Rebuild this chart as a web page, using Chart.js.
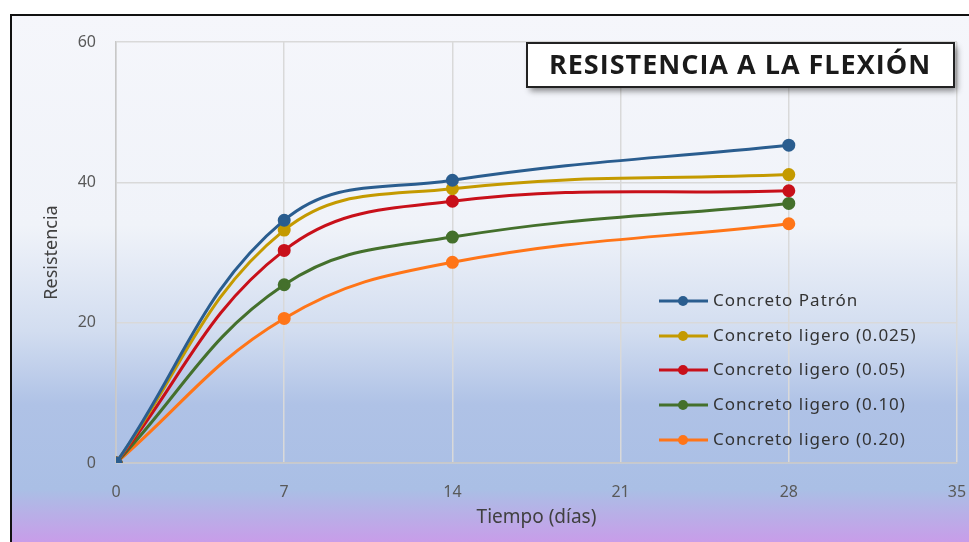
<!DOCTYPE html>
<html>
<head>
<meta charset="utf-8">
<script src="https://cdn.jsdelivr.net/npm/chart.js@4/dist/chart.umd.min.js"></script>
<style>
  html, body { margin: 0; padding: 0; background: #ffffff; }
  #wrap { width: 969px; height: 542px; position: relative; }
</style>
</head>
<body>
<div id="wrap"><canvas id="chart" width="969" height="542"></canvas></div>
<script>
// Datos
const dias = [0, 7, 14, 28];
const series = [
    'Concreto Patrón',
    'Concreto ligero (0.025)',
    'Concreto ligero (0.05)',
    'Concreto ligero (0.10)',
    'Concreto ligero (0.20)'
];
const patron = [0, 34.6, 40.3, 45.3];
const ligero025 = [0, 33.2, 39.1, 41.1];
const ligero05 = [0, 30.3, 37.3, 38.8];
const ligero10 = [0, 25.4, 32.2, 37.0];
const ligero20 = [0, 20.6, 28.6, 34.1];
const colores = ['#2a5d8f', '#c49a00', '#c8101a', '#44702c', '#ff7518'];
const xTicks = [0, 7, 14, 21, 28, 35];
const yTicks = [0, 20, 40, 60];
const titulo = 'RESISTENCIA A LA FLEXIÓN';

const valores = [patron, ligero025, ligero05, ligero10, ligero20];

const datasets = valores.map((vals, i) => ({
    label: series[i],
    data: vals.map((v, j) => ({ x: dias[j], y: v })),
    borderColor: colores[i],
    backgroundColor: colores[i],
    borderWidth: 3,
    pointRadius: 5,
    pointHoverRadius: 5,
    tension: 0.4
}));

// Fondo degradado y marco
const fondo = {
    id: 'fondo',
    beforeDraw(chart) {
        const ctx = chart.ctx;
        ctx.save();
        ctx.fillStyle = '#ffffff';
        ctx.fillRect(0, 0, chart.width, chart.height);
        const g = ctx.createLinearGradient(0, 14, 0, 542);
        g.addColorStop(0, '#f5f6fb');
        g.addColorStop(0.4, '#f0f3f9');
        g.addColorStop(0.6, '#d2ddf0');
        g.addColorStop(0.74, '#afc2e6');
        g.addColorStop(0.9, '#aabfe5');
        g.addColorStop(1, '#c89de9');
        ctx.fillStyle = g;
        ctx.fillRect(10, 14, chart.width - 10, chart.height - 14);
        ctx.strokeStyle = '#111111';
        ctx.lineWidth = 2;
        ctx.beginPath();
        ctx.moveTo(11, chart.height);
        ctx.lineTo(11, 15);
        ctx.lineTo(chart.width, 15);
        ctx.stroke();
        ctx.restore();
    }
};

// Título en caja y leyenda dentro del área
const extras = {
    id: 'extras',
    afterDraw(chart) {
        const ctx = chart.ctx;
        ctx.save();
        // caja del título
        ctx.shadowColor = 'rgba(0,0,0,0.45)';
        ctx.shadowBlur = 6;
        ctx.shadowOffsetX = 3;
        ctx.shadowOffsetY = 4;
        ctx.fillStyle = '#ffffff';
        ctx.fillRect(527, 43, 427, 44);
        ctx.shadowColor = 'transparent';
        ctx.strokeStyle = '#222222';
        ctx.lineWidth = 2;
        ctx.strokeRect(527, 43, 427, 44);
        ctx.fillStyle = '#1a1a1a';
        ctx.font = 'bold 27px "Open Sans", "Noto Sans", sans-serif';
        ctx.letterSpacing = '1px';
        ctx.textAlign = 'center';
        ctx.textBaseline = 'middle';
        ctx.fillText(titulo, 740, 66);

        // leyenda
        const filas = [301, 336, 370, 405, 440];
        ctx.font = '17px "Noto Sans", sans-serif';
        ctx.letterSpacing = '1px';
        ctx.textAlign = 'left';
        chart.data.datasets.forEach((ds, i) => {
            const y = filas[i];
            ctx.strokeStyle = ds.borderColor;
            ctx.lineWidth = 3;
            ctx.beginPath();
            ctx.moveTo(659, y);
            ctx.lineTo(708, y);
            ctx.stroke();
            ctx.fillStyle = ds.borderColor;
            ctx.beginPath();
            ctx.arc(683, y, 5, 0, Math.PI * 2);
            ctx.fill();
            ctx.fillStyle = '#333333';
            ctx.fillText(ds.label, 713, y);
        });
        ctx.restore();
    }
};

new Chart(document.getElementById('chart'), {
    type: 'line',
    data: { datasets: datasets },
    options: {
        responsive: false,
        animation: false,
        layout: { padding: { left: 12, right: 12, top: 42, bottom: 0 } },
        plugins: {
            legend: { display: false },
            tooltip: { enabled: false }
        },
        scales: {
            x: {
                type: 'linear',
                min: 0,
                max: 35,
                afterBuildTicks(scale) {
                    scale.ticks = xTicks.map(v => ({ value: v }));
                },
                afterFit(scale) {
                    scale.height = 79;
                    scale.paddingLeft = 0;
                    scale.paddingRight = 0;
                },
                grid: { color: '#d9d9d9', lineWidth: 1.5, drawTicks: false },
                border: { color: '#c8c8c8', width: 1.5 },
                ticks: {
                    padding: 20,
                    color: '#595959',
                    font: { family: '"Noto Sans", sans-serif', size: 16 }
                },
                title: {
                    display: true,
                    text: 'Tiempo (días)',
                    color: '#404040',
                    font: { family: '"Noto Sans", sans-serif', size: 19 },
                    padding: { top: 13, bottom: 13 }
                }
            },
            y: {
                min: 0,
                max: 60,
                afterBuildTicks(scale) {
                    scale.ticks = yTicks.map(v => ({ value: v }));
                },
                afterFit(scale) { scale.width = 104; },
                grid: { color: '#d9d9d9', lineWidth: 1.5, drawTicks: false },
                border: { color: '#c8c8c8', width: 1.5 },
                ticks: {
                    padding: 20,
                    color: '#595959',
                    font: { family: '"Noto Sans", sans-serif', size: 16 }
                },
                title: {
                    display: true,
                    text: 'Resistencia',
                    color: '#404040',
                    font: { family: '"Noto Sans", sans-serif', size: 18 },
                    padding: { top: 29, bottom: 0 }
                }
            }
        }
    },
    plugins: [fondo, extras]
});
</script>
</body>
</html>
